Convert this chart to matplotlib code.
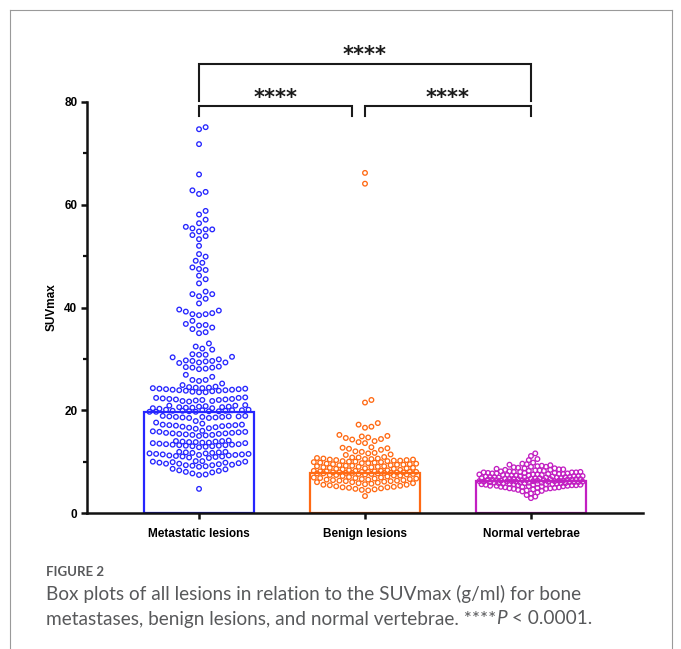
import numpy as np
import matplotlib.pyplot as plt
from matplotlib.lines import Line2D

plt.rcParams['font.family'] = ['Liberation Sans', 'DejaVu Sans']

groups = ['Metastatic lesions', 'Benign lesions', 'Normal vertebrae']
bar_means = [19.7, 7.8, 6.2]
colors = ['#2626ff', '#ff6a14', '#c21fc2']
sig_pairs = [(0, 1), (1, 2), (0, 2)]
sig_labels = ['****', '****', '****']

metastatic = [75.1, 74.7, 71.8, 65.9, 62.8, 62.5, 62.1, 58.8, 58.1, 57.1, 56.4, 55.7,
              55.4, 55.2, 55.2, 54.8, 54.1, 53.9, 53.3, 52.0, 50.4, 49.9, 49.1, 48.7,
              47.8, 47.5, 47.3, 46.2, 45.5, 44.7, 43.1, 42.6, 42.6, 42.2, 41.7, 40.8,
              39.6, 39.4, 39.2, 38.9, 38.7, 38.7, 38.5, 37.4, 36.8, 36.6, 36.5, 36.1,
              35.8, 35.2, 35.0, 33.0, 32.4, 32.0, 31.8, 30.9, 30.8, 30.8, 30.4, 30.3,
              29.9, 29.7, 29.6, 29.6, 29.5, 29.3, 29.3, 29.2, 28.5, 28.4, 28.3, 28.3,
              28.1, 28.0, 26.9, 26.5, 25.9, 25.9, 25.7, 25.2, 24.9,
              24.6, 24.5, 24.4, 24.4, 24.3, 24.3, 24.2, 24.2, 24.1, 24.1, 24.0, 24.0,
              23.9, 23.9, 23.8, 23.8, 23.7, 23.6, 23.5, 23.5,
              22.5, 22.4, 22.4, 22.3, 22.2, 22.2, 22.1, 22.1, 22.0, 22.0, 21.9, 21.8,
              21.8, 21.7, 21.0, 20.9, 20.9, 20.8, 20.7, 20.7, 20.6, 20.6, 20.5, 20.5,
              20.4, 20.4, 20.3, 20.1, 20.1, 20.0, 20.0, 20.0, 19.9, 19.9, 19.9, 19.8,
              19.8, 19.8, 19.7, 19.7, 19.7, 18.9, 18.9, 18.8, 18.8, 18.8, 18.7, 18.7,
              18.7, 18.6, 18.6, 18.5, 18.5, 17.9, 17.6, 17.4, 17.2, 17.2, 17.1, 17.1,
              17.0, 17.0, 16.9, 16.8, 16.7, 16.6, 16.5, 16.4, 16.0, 15.9, 15.8, 15.8,
              15.7, 15.6, 15.6, 15.5, 15.5, 15.4, 15.4, 15.3, 15.2, 15.2, 15.1, 15.0,
              14.1, 14.0, 14.0, 13.9, 13.9, 13.8, 13.8, 13.7, 13.7, 13.6, 13.6, 13.5,
              13.4, 13.4, 13.3, 13.3, 13.2, 13.2, 13.1, 13.1, 13.0, 13.0, 12.9, 12.8,
              11.9, 11.9, 11.8, 11.8, 11.7, 11.7, 11.6, 11.6, 11.5, 11.5, 11.4, 11.4,
              11.3, 11.3, 11.2, 11.2, 11.1, 11.0, 11.0, 10.9, 10.8, 10.7,
              10.1, 10.1, 10.0, 10.0, 9.9, 9.8, 9.8, 9.7, 9.6, 9.6, 9.5, 9.4, 9.3, 9.3,
              9.2, 9.1, 9.0, 8.6, 8.5, 8.3, 8.2, 8.0, 7.9, 7.7, 7.5, 7.4, 4.7]

benign = [66.2, 64.1, 22.0, 21.5, 17.5, 17.2, 16.8, 16.6,
          15.2, 15.0, 14.9, 14.7, 14.6, 14.4, 14.3, 14.0, 13.8, 13.6,
          12.8, 12.7, 12.6, 12.5, 12.3, 12.0, 11.9, 11.7, 11.6, 11.4, 11.3,
          10.9, 10.8, 10.8, 10.7, 10.6, 10.6, 10.5, 10.5, 10.4, 10.4, 10.3, 10.3,
          10.2, 10.2, 10.1, 10.1, 10.0, 10.0, 9.9, 9.9, 9.8, 9.8, 9.7, 9.7, 9.6,
          9.6, 9.5, 9.5, 9.4, 9.4, 9.3, 9.3, 9.2, 9.2, 9.1, 9.1, 9.0, 9.0, 8.9,
          8.9, 8.8, 8.8, 8.7, 8.7, 8.6, 8.6, 8.5, 8.4,
          8.3, 8.3, 8.2, 8.2, 8.2, 8.1, 8.1, 8.1, 8.0, 8.0, 8.0, 8.0, 7.9, 7.9,
          7.9, 7.9, 7.8, 7.8, 7.8, 7.8, 7.7, 7.7, 7.7, 7.6, 7.6, 7.6, 7.5, 7.5,
          7.4, 7.4, 7.3, 7.3, 7.2, 7.1, 7.0,
          6.9, 6.9, 6.8, 6.8, 6.7, 6.7, 6.6, 6.6, 6.5, 6.5, 6.4, 6.4, 6.3, 6.3,
          6.2, 6.2, 6.1, 6.0, 6.0, 5.9, 5.8, 5.8, 5.7, 5.6, 5.5, 5.5, 5.4, 5.3,
          5.2, 5.1, 5.0, 5.0, 4.9, 4.8, 4.7, 4.6, 4.5, 4.4, 3.3]

normal = [11.6, 11.1, 10.5, 10.3, 9.8, 9.6, 9.5, 9.4, 9.3, 9.2, 9.1, 9.0, 9.0,
          8.9, 8.8, 8.7, 8.7, 8.6, 8.5, 8.5, 8.4, 8.4, 8.3, 8.3, 8.2, 8.2, 8.1,
          8.1, 8.0, 8.0, 8.0, 7.9, 7.9, 7.9, 7.8, 7.8, 7.8, 7.7, 7.7, 7.7, 7.6,
          7.6, 7.6, 7.5, 7.5, 7.5, 7.4, 7.4, 7.4, 7.3, 7.3, 7.3, 7.2, 7.2, 7.2,
          7.1, 7.1, 7.1, 7.0, 7.0, 7.0, 7.0, 6.9, 6.9, 6.9, 6.9, 6.8, 6.8, 6.8,
          6.8, 6.7, 6.7, 6.7, 6.7, 6.6, 6.6, 6.6, 6.6, 6.5, 6.5, 6.5, 6.5, 6.4,
          6.4, 6.4, 6.4, 6.3, 6.3, 6.3, 6.3, 6.2, 6.2, 6.2, 6.2, 6.2, 6.1, 6.1,
          6.1, 6.1, 6.0, 6.0, 6.0, 6.0, 5.9, 5.9, 5.9, 5.9, 5.8, 5.8, 5.8, 5.8,
          5.7, 5.7, 5.7, 5.7, 5.6, 5.6, 5.6, 5.6, 5.5, 5.5, 5.5, 5.4, 5.4, 5.4,
          5.3, 5.3, 5.3, 5.2, 5.2, 5.2, 5.1, 5.1, 5.0, 5.0, 4.9, 4.9, 4.8, 4.8,
          4.7, 4.7, 4.6, 4.5, 4.4, 4.3, 4.2, 4.0, 3.8, 3.5, 3.2, 2.9]

W, H = 681, 649
fig = plt.figure(figsize=(W / 100, H / 100), dpi=100)
ax_l, ax_r, ax_t, ax_b = 87, 643, 102, 513
ax = fig.add_axes([ax_l / W, 1 - ax_b / H, (ax_r - ax_l) / W, (ax_b - ax_t) / H])
xlim = (-0.675, 2.675)
ylim = (0, 80)
ax.set_xlim(xlim)
ax.set_ylim(ylim)

# pixels per data unit
xpx = (ax_r - ax_l) / (xlim[1] - xlim[0])
ypx = (ax_b - ax_t) / (ylim[1] - ylim[0])


def swarm(vals, dmin, maxw):
    vals = np.asarray(vals, float)
    order = np.argsort(vals)
    y = vals[order] * ypx
    steps = np.arange(dmin / 2, maxw + 0.01, dmin / 2)
    cand = np.concatenate([[0.0], np.ravel(np.column_stack([steps, -steps]))])
    px, py = [], []
    xs = np.zeros(len(vals))
    for i, yi in enumerate(y):
        P, Q = np.array(px), np.array(py)
        near = np.abs(Q - yi) < dmin if len(Q) else np.array([], bool)
        P, Q = P[near], Q[near]
        best, bestd = 0.0, -1.0
        for c in cand:
            d = np.min((P - c) ** 2 + (Q - yi) ** 2) if len(P) else np.inf
            if d >= dmin ** 2:
                best = c
                break
            if d > bestd:
                bestd, best = d, c
        xs[order[i]] = best
        px.append(best)
        py.append(yi)
    return xs / xpx


# bars (mean)
ax.bar(range(3), bar_means, width=0.66, fill=False, edgecolor=colors,
       linewidth=1.6, zorder=1)

spacing = [(6.6, 52), (6.4, 52), (4.3, 53)]
for i, data in enumerate([metastatic, benign, normal]):
    dx = swarm(data, *spacing[i])
    ax.scatter(i + dx, data, s=11, facecolors='none', edgecolors=colors[i],
               linewidths=0.95, zorder=2, clip_on=False)

# axes styling
for s in ['top', 'right']:
    ax.spines[s].set_visible(False)
for s in ['left', 'bottom']:
    ax.spines[s].set_linewidth(1.8)
    ax.spines[s].set_color('#111111')
ax.set_yticks([0, 20, 40, 60, 80])
ax.set_yticks([10, 30, 50, 70], minor=True)
ax.set_xticks(range(3))
ax.set_xticklabels(groups, fontsize=8.5, fontweight='bold')
ax.tick_params(axis='both', which='major', width=1.8, length=4, labelsize=8.5,
               color='#111111', pad=3)
ax.tick_params(axis='x', which='major', pad=7)
ax.tick_params(axis='y', which='minor', width=1.6, length=3, color='#111111')
for lab in ax.get_yticklabels():
    lab.set_fontweight('bold')
ax.set_ylabel('SUVmax', fontsize=8.5, fontweight='bold', labelpad=5)

# significance brackets
lw_b = 1.5
for (a, b), lab in zip(sig_pairs, sig_labels):
    if b - a == 2:
        y0, y1 = 80.1, 87.3
        x0, x1 = a, b
        ty = 87.9
    else:
        y0, y1 = 77.3, 79.2
        x0, x1 = (a, b - 0.08) if a == 0 else (a, b)
        ty = 79.7
    ax.plot([x0, x0, x1, x1], [y0, y1, y1, y0], color='#1a1a1a', lw=lw_b,
            clip_on=False, solid_joinstyle='miter')
    ax.text((x0 + x1) / 2, ty, lab, ha='center', va='baseline', fontsize=15,
            fontweight='bold', family='DejaVu Sans', color='#1a1a1a', clip_on=False)

# frame around the figure panel
frame_c = '#9a9a9a'
fig.add_artist(Line2D([10 / W, 672 / W], [1 - 10 / H, 1 - 10 / H], color=frame_c, lw=0.8))
fig.add_artist(Line2D([10 / W, 10 / W], [1 - 10 / H, 0], color=frame_c, lw=0.8))
fig.add_artist(Line2D([672 / W, 672 / W], [1 - 10 / H, 0], color=frame_c, lw=0.8))

# caption
cap_c = '#58595b'
fs_cap = 13.7
fig.text(46 / W, 1 - 572 / H, 'FIGURE 2', fontsize=9.5, color=cap_c,
         family='Lato', fontweight='bold', va='center')
fig.text(46 / W, 1 - 594 / H,
         'Box plots of all lesions in relation to the SUVmax (g/ml) for bone',
         fontsize=fs_cap, color=cap_c, family='Lato', va='center')

fig.canvas.draw()
r = fig.canvas.get_renderer()
x = 46
pieces = [('metastases, benign lesions, and normal vertebrae. ****', 'normal'),
          ('P', 'italic'), (' < 0.0001.', 'normal')]
for txt, st in pieces:
    t = fig.text(x / W, 1 - 619 / H, txt, fontsize=fs_cap, color=cap_c,
                 family='Lato', style=st, va='center')
    bb = t.get_window_extent(renderer=r)
    x += bb.width

fig.savefig('out.png', dpi=100)
